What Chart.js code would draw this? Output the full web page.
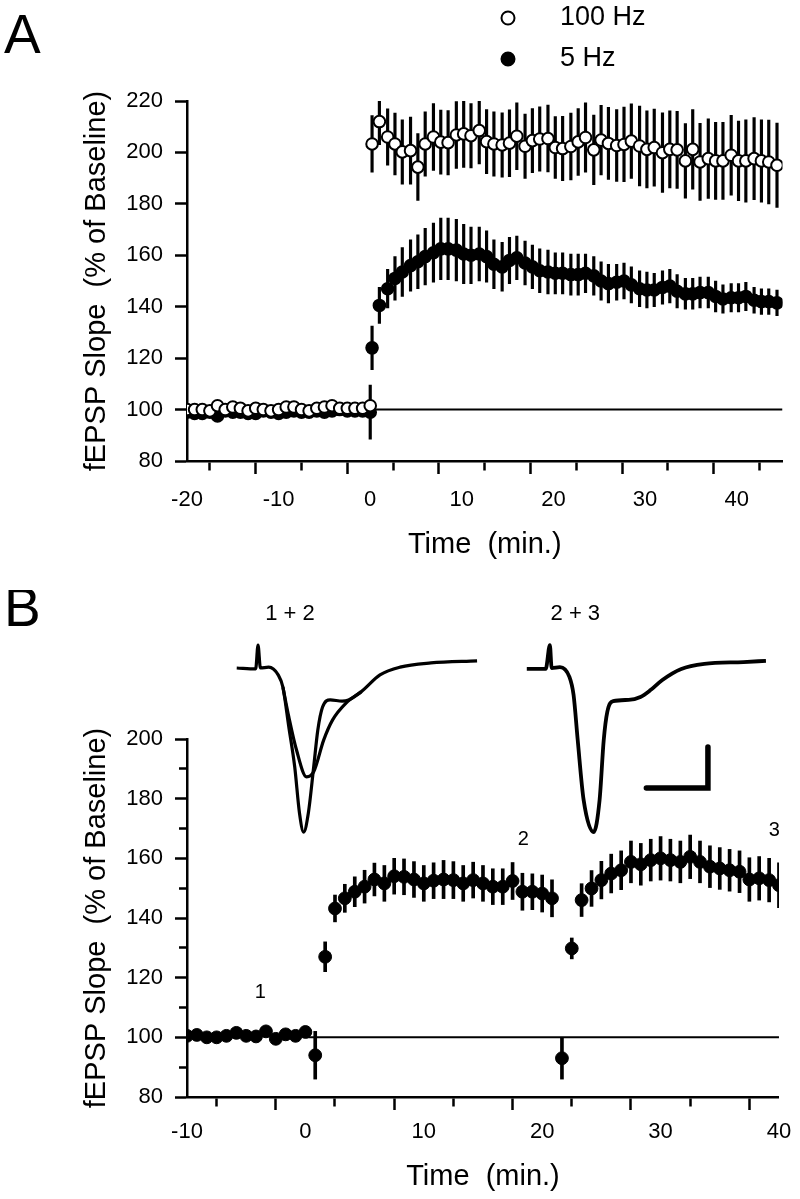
<!DOCTYPE html>
<html>
<head>
<meta charset="utf-8">
<script src="https://cdn.jsdelivr.net/npm/chart.js@4.4.1/dist/chart.umd.min.js"></script>
<style>
  html, body { margin: 0; padding: 0; background: #fff; }
  #wrap { position: relative; width: 800px; height: 1199px; overflow: hidden; }
  #wrap canvas { position: absolute; left: 0; }
  #chart-a { top: 0; }
  #chart-b { top: 590px; }
</style>
</head>
<body>
<div id="wrap">
  <canvas id="chart-a" width="800" height="590"></canvas>
  <canvas id="chart-b" width="800" height="609"></canvas>
</div>
<script>
// ---- Panel A : 100 Hz vs 5 Hz ----
const timeBaseA = [-20, -19.17, -18.33, -17.5, -16.67, -15.83, -15, -14.17, -13.33, -12.5, -11.67, -10.83,
  -10, -9.17, -8.33, -7.5, -6.67, -5.83, -5, -4.17, -3.33, -2.5, -1.67, -0.83, 0];
const base100A = [100, 100, 100, 99.5, 101.5, 100, 101, 100.5, 99.5, 100.5, 100, 99.5,
  100, 101, 101, 100, 99.5, 100.5, 101, 101.5, 100.5, 100.5, 100.5, 100.5, 101.5];
const base100AErr = [1.5, 1.5, 1.5, 1.5, 1.5, 1.5, 1.5, 1.5, 1.5, 1.5, 1.5, 1.5,
  1.5, 1.5, 1.5, 1.5, 1.5, 1.5, 1.5, 1.5, 1.5, 1.5, 1.5, 1.5, 1.5];
const base5A = [99, 98.5, 98.5, 99, 97.5, 99.5, 99, 99, 98.5, 98.5, 99.5, 99,
  98.5, 99, 99.5, 99, 99, 99.5, 99, 99.5, 100, 99.5, 99.5, 99.5, 99];
const base5AErr = [1.5, 1.5, 1.5, 1.5, 1.5, 1.5, 1.5, 1.5, 1.5, 1.5, 1.5, 1.5,
  1.5, 1.5, 1.5, 1.5, 1.5, 1.5, 1.5, 1.5, 1.5, 1.5, 1.5, 1.5, 10.5];

const timePostA = [0.2, 1.0, 1.9, 2.7, 3.5, 4.4, 5.2, 6.0, 6.9, 7.7, 8.5, 9.4, 10.2, 11.0, 11.9, 12.7, 13.5, 14.4,
  15.2, 16.0, 16.9, 17.7, 18.5, 19.4, 20.2, 21.0, 21.9, 22.7, 23.5, 24.4, 25.2, 26.0, 26.9, 27.7, 28.5, 29.4,
  30.2, 31.0, 31.9, 32.7, 33.5, 34.4, 35.2, 36.0, 36.9, 37.7, 38.5, 39.4, 40.2, 41.0, 41.9, 42.7, 43.5, 44.4];
const post100A = [203.3, 212, 206, 203.3, 200.2, 200.7, 194.3, 203.3, 206, 204, 203.8, 206.8, 207.2, 206.5, 208.5, 204.2, 203.3, 202.9,
  203.6, 206.3, 202.4, 204.6, 205.2, 205.4, 201.9, 201.5, 202.3, 204.1, 205.8, 201, 204.8, 203.5, 202.7, 203.1, 204.4, 202.5,
  201.2, 201.9, 199.9, 201.2, 201, 196.7, 201.2, 196.3, 197.6, 196.7, 196.7, 198.9, 196.7, 196.7, 197.6, 196.7, 196.3, 195];
const post100AErr = [11, 9, 11, 12, 12.5, 13, 13, 12.5, 13, 12.5, 12.5, 13, 13, 12.5, 13, 12.5, 12.5, 12.5,
  13, 13, 12.5, 12.5, 12.5, 13, 12, 12.5, 13, 13, 13.5, 13.5, 13.5, 14, 14, 14.5, 14.5, 15.5,
  15, 15, 15.5, 15, 15, 14.5, 15.5, 15, 15.5, 15, 15, 15.5, 15.5, 16, 16, 16, 16.3, 16.4];
const post5A = [124, 140.5, 147, 151, 153.5, 156, 157.5, 159.5, 161, 162.5, 162.5, 162, 160.5, 160, 160.5, 159.5, 156.5, 155.5,
  158, 159, 157, 155.5, 154, 153.5, 153, 153, 152.5, 152.5, 153, 152, 150, 149, 149.5, 150, 148.5, 147,
  146.5, 146.5, 147.5, 148, 146, 145, 145, 145.5, 145.5, 144, 143, 143.5, 143.5, 144, 142.5, 142, 142, 141.5];
const post5AErr = [8.5, 7, 7.5, 8.5, 9.5, 10, 10.5, 11, 11.5, 12, 12, 12, 11.5, 11, 10.5, 10, 9.5, 9.5,
  9, 8.5, 8.5, 8.5, 8.5, 8.5, 8, 8, 8, 8, 7.5, 7.5, 7.5, 7.5, 7, 7, 7, 7,
  7, 6.5, 6.5, 6.5, 6.5, 6, 6, 6, 6, 6, 5.5, 5.5, 5.5, 5.5, 5, 5, 5, 5];

// ---- Panel B : two 5 Hz trains ----
const timeBaseB = [-10, -9.17, -8.33, -7.5, -6.67, -5.83, -5, -4.17, -3.33, -2.5, -1.67, -0.83, 0];
const baseB = [100.5, 100.8, 100, 100, 100.5, 101.5, 100.5, 100.3, 102, 99.5, 101, 100.5, 101.8];
const baseBErr = [1, 1, 1, 1, 1, 1, 1, 1, 1, 1, 1, 1, 1];
const timePostB = [0.83, 1.67, 2.5, 3.33, 4.17, 5, 5.83, 6.67, 7.5, 8.33, 9.17, 10, 10.83, 11.67, 12.5, 13.33,
  14.17, 15, 15.83, 16.67, 17.5, 18.33, 19.17, 20, 20.83, 21.67, 22.5, 23.33, 24.17, 25, 25.83, 26.67,
  27.5, 28.33, 29.17, 30, 30.83, 31.67, 32.5, 33.33, 34.17, 35, 35.83, 36.67, 37.5, 38.33, 39.17, 40];
const postB = [94, 127, 143.2, 146.6, 148.8, 150.5, 152.9, 151.6, 154, 153.8, 152.9, 151.6, 152.5, 152.9, 152.7, 151.6,
  152.7, 151.6, 150.5, 150.5, 152.4, 148.8, 148.8, 148.2, 146.6, 93, 129.8, 146, 149.9, 152.7, 154.9, 156,
  158.8, 158, 159.4, 160, 159.4, 158.8, 160.5, 158.8, 157.2, 156.6, 156, 155.5, 152.9, 153.3, 152.7, 151];
const postBErr = [8, 5, 4.5, 4.7, 5, 5.5, 5.5, 6, 6, 6, 6, 6, 6, 6.4, 6.2, 6,
  6, 6, 6, 6, 6.2, 6.2, 6, 6.2, 6.2, 7, 3.5, 5.5, 6, 6.3, 6.5, 6.5,
  7, 7, 7, 7.3, 7, 7, 7.3, 7, 7, 7, 7, 7, 7.3, 7.3, 7.3, 7.5];

// sample traces (fEPSP waveforms) drawn over panel B, in the panel's own units
const trace12Big = [[-5.8, 223.8], [-4.2, 223.5], [-4.0, 231.5], [-3.8, 223.8], [-3.1, 224.1], [-2.3, 221.5], [-1.9, 217.4],
  [-1.4, 204], [-0.9, 190.6], [-0.5, 175.2], [-0.15, 168.8], [0.25, 175.2], [0.7, 190.6], [1.05, 203], [1.45, 210.7],
  [2.1, 213.1], [3.1, 212.7], [3.65, 213.1], [4.7, 215.8], [6.3, 221.5], [8.0, 224.1], [10.6, 225.5], [14.5, 226.2]];
const trace12Small = [[-1.9, 217.4], [-1.4, 207.4], [-0.75, 196.3], [0.1, 187.3], [0.7, 189], [1.55, 199.7],
  [2.3, 206.4], [3.45, 212.1], [4.7, 215.8]];
const trace23 = [[18.7, 223.5], [20.3, 223.5], [20.65, 231.5], [20.8, 223.8], [21.5, 224.1], [22.3, 220.8], [22.65, 214.8],
  [23.0, 199.7], [23.5, 179.6], [24.35, 168.8], [24.85, 179.6], [25.2, 199.7], [25.5, 209.1], [26.0, 212.7], [27.3, 213.1],
  [28.3, 214.1], [29.15, 216.4], [30.15, 219.8], [31.75, 223.5], [33.7, 225.2], [37.0, 225.8], [38.9, 226.2]];
const scaleBar = [[28.8, 183.6], [34.0, 183.6], [34.0, 197.3]];

const noteText = ['1', '2', '3', '1 + 2', '2 + 3'];
const noteX = [-3.8, 18.4, 39.6, -1.3, 22.8];
const noteY = [114.9, 166.2, 169.5, 241.9, 241.9];
const noteSize = [20, 20, 20, 22, 22];

const FONT = "'Liberation Sans', Arial, Helvetica, sans-serif";
Chart.defaults.font.family = FONT;
Chart.defaults.color = '#000';

function pts(xs, ys) { return xs.map((x, i) => ({ x, y: ys[i] })); }
function errBars(xs, ys, es) { return xs.map((x, i) => ({ x, y: [ys[i] - es[i], ys[i] + es[i]] })); }
function pairs(arr) { return arr.map(p => ({ x: p[0], y: p[1] })); }

// text pieces that are not axes: panel letter, legend, notes
const figText = {
  id: 'figText',
  afterDraw(chart, args, opts) {
    const ctx = chart.ctx;
    const sx = chart.scales.x, sy = chart.scales.y;
    ctx.save();
    ctx.fillStyle = '#000';
    if (opts.letter) {
      ctx.font = '55px ' + FONT;
      ctx.textAlign = 'left';
      ctx.textBaseline = 'alphabetic';
      ctx.fillText(opts.letter, opts.letterX, opts.letterY);
    }
    (opts.notes || []).forEach(n => {
      ctx.font = n.size + 'px ' + FONT;
      ctx.textAlign = 'center';
      ctx.textBaseline = 'middle';
      ctx.fillText(n.text, sx.getPixelForValue(n.x), sy.getPixelForValue(n.y));
    });
    (opts.legend || []).forEach(it => {
      const ds = chart.data.datasets[it.dataset];
      ctx.beginPath();
      ctx.arc(it.x, it.y, 6.5, 0, Math.PI * 2);
      ctx.fillStyle = ds.pointBackgroundColor;
      ctx.fill();
      ctx.lineWidth = ds.pointBorderWidth;
      ctx.strokeStyle = ds.pointBorderColor;
      ctx.stroke();
      ctx.fillStyle = '#000';
      ctx.font = '27px ' + FONT;
      ctx.textAlign = 'left';
      ctx.textBaseline = 'middle';
      ctx.fillText(ds.label, it.textX, it.y);
    });
    ctx.restore();
  }
};

function xAxis(min, max, h, labelPad, titlePad) {
  return {
    type: 'linear', min, max, offset: false,
    afterFit: s => { s.height = h; },
    border: { display: true, color: '#000', width: 2.5 },
    grid: {
      drawOnChartArea: false, drawTicks: true, tickLength: 13, tickWidth: 2.5, tickColor: '#000',
      tickBorderDash: c => (c.tick && c.tick.value % 10 === 0) ? [] : [8, 40]
    },
    ticks: {
      stepSize: 5, autoSkip: false, maxRotation: 0, padding: labelPad,
      font: { size: 22 }, color: '#000',
      callback: v => (v % 10 === 0 ? v : '')
    },
    title: { display: true, text: 'Time  (min.)', color: '#000', font: { size: 29 }, padding: { top: 0, bottom: titlePad } }
  };
}

function yAxis(min, max) {
  return {
    type: 'linear', min, max,
    afterFit: s => { s.width = 187; },
    border: { display: true, color: '#000', width: 2.5 },
    grid: {
      drawOnChartArea: false, drawTicks: true, tickLength: 12, tickWidth: 2.5, tickColor: '#000',
      tickBorderDash: c => (c.tick && c.tick.value % 20 === 0) ? [] : [0, 4, 8, 40]
    },
    ticks: {
      stepSize: 10, padding: 12, font: { size: 22 }, color: '#000',
      callback: v => (v % 20 === 0 ? v : '')
    },
    title: { display: true, text: 'fEPSP Slope  (% of Baseline)', color: '#000', font: { size: 29 }, padding: { top: 79.6, bottom: 0 } }
  };
}

const common = {
  responsive: false, animation: false, events: [],
  layout: { autoPadding: false },
  plugins: { legend: { display: false }, tooltip: { enabled: false } }
};

// Panel A
new Chart(document.getElementById('chart-a'), {
  type: 'scatter',
  data: {
    datasets: [
      { label: '100 Hz', data: pts(timeBaseA.concat(timePostA), base100A.concat(post100A)),
        pointRadius: 5.8, pointBorderWidth: 2, pointBackgroundColor: '#fff', pointBorderColor: '#000', order: 1 },
      { label: '5 Hz', data: pts(timeBaseA.concat(timePostA), base5A.concat(post5A)),
        pointRadius: 5.8, pointBorderWidth: 2, pointBackgroundColor: '#000', pointBorderColor: '#000', order: 2 },
      { type: 'bar', data: errBars(timeBaseA.concat(timePostA), base100A.concat(post100A), base100AErr.concat(post100AErr)),
        backgroundColor: '#000', borderWidth: 0, barThickness: 2.5, grouped: false, order: 3 },
      { type: 'bar', data: errBars(timeBaseA.concat(timePostA), base5A.concat(post5A), base5AErr.concat(post5AErr)),
        backgroundColor: '#000', borderWidth: 0, barThickness: 2.5, grouped: false, order: 4 },
      { data: pts([0, 45], [100, 100]), showLine: true, borderColor: '#000', borderWidth: 2, pointRadius: 0, order: 5 }
    ]
  },
  options: Object.assign({}, common, {
    layout: { autoPadding: false, padding: { left: 0, right: 17.5, top: 101, bottom: 0 } },
    scales: { x: xAxis(-20, 45, 129, 12.5, 27.6), y: yAxis(80, 220) },
    plugins: Object.assign({}, common.plugins, {
      figText: {
        letter: 'A', letterX: 4, letterY: 53,
        legend: [{ dataset: 0, x: 508, y: 18, textX: 560 }, { dataset: 1, x: 508, y: 59, textX: 560 }]
      }
    })
  }),
  plugins: [figText]
});

// Panel B
new Chart(document.getElementById('chart-b'), {
  type: 'scatter',
  data: {
    datasets: [
      { data: pairs(trace12Big), showLine: true, borderColor: '#000', borderWidth: 3.2, pointRadius: 0,
        cubicInterpolationMode: 'monotone', clip: false, order: 0 },
      { data: pairs(trace12Small), showLine: true, borderColor: '#000', borderWidth: 3.2, pointRadius: 0,
        cubicInterpolationMode: 'monotone', clip: false, order: 0 },
      { data: pairs(trace23), showLine: true, borderColor: '#000', borderWidth: 3.8, pointRadius: 0,
        cubicInterpolationMode: 'monotone', clip: false, order: 0 },
      { data: pairs(scaleBar), showLine: true, borderColor: '#000', borderWidth: 5.5, pointRadius: 0,
        borderCapStyle: 'round', clip: false, order: 0 },
      { label: '5 Hz', data: pts(timeBaseB.concat(timePostB), baseB.concat(postB)),
        pointRadius: 6.4, pointBorderWidth: 1, pointBackgroundColor: '#000', pointBorderColor: '#000', order: 1 },
      { type: 'bar', data: errBars(timeBaseB.concat(timePostB), baseB.concat(postB), baseBErr.concat(postBErr)),
        backgroundColor: '#000', borderWidth: 0, barThickness: 3, grouped: false, order: 3 },
      { data: pts([0, 40], [100, 100]), showLine: true, borderColor: '#000', borderWidth: 2, pointRadius: 0, order: 5 }
    ]
  },
  options: Object.assign({}, common, {
    layout: { autoPadding: false, padding: { left: 0, right: 18, top: 149, bottom: 0 } },
    scales: { x: xAxis(-10, 40, 102, 8.8, 4.6), y: yAxis(80, 200) },
    plugins: Object.assign({}, common.plugins, {
      figText: {
        letter: 'B', letterX: 4, letterY: 36,
        notes: noteText.map((t, i) => ({ text: t, x: noteX[i], y: noteY[i], size: noteSize[i] }))
      }
    })
  }),
  plugins: [figText]
});
</script>
</body>
</html>
